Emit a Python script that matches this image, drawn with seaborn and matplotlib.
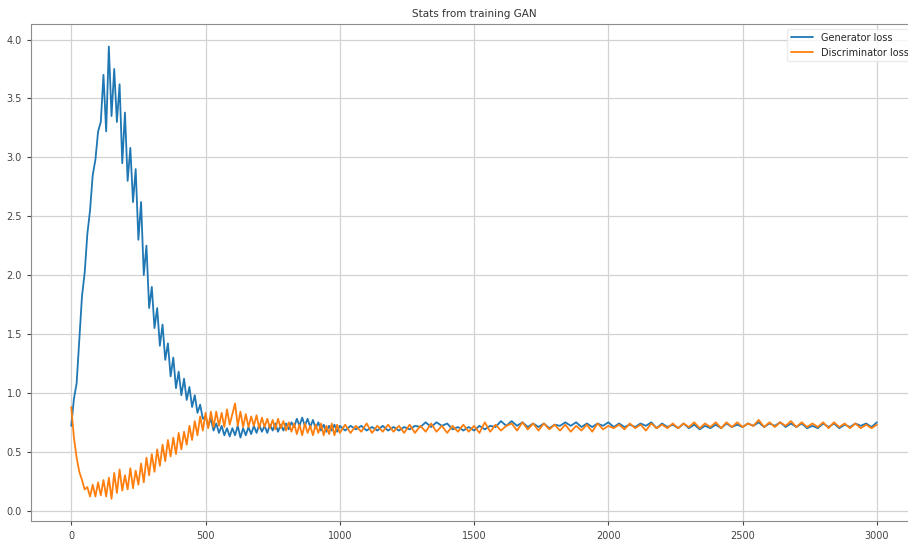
import matplotlib
matplotlib.use("Agg")
import matplotlib.pyplot as plt
import seaborn as sns

# iterations: every 10 up to 1000, then every 20
steps = list(range(0, 1001, 10)) + list(range(1020, 3001, 20))

generator_loss = [
    0.72, 0.95, 1.08, 1.45, 1.82, 2.02, 2.35, 2.55, 2.85, 2.98,
    3.22, 3.30, 3.70, 3.22, 3.94, 3.35, 3.75, 3.30, 3.62, 2.95,
    3.38, 2.80, 3.08, 2.62, 2.90, 2.30, 2.62, 2.00, 2.25, 1.72,
    1.90, 1.55, 1.72, 1.40, 1.58, 1.28, 1.42, 1.14, 1.30, 1.04,
    1.18, 0.98, 1.12, 0.94, 1.05, 0.88, 0.98, 0.83, 0.90, 0.78,
    0.80, 0.72, 0.78, 0.68, 0.74, 0.66, 0.72, 0.64, 0.70, 0.63,
    0.70, 0.64, 0.72, 0.62, 0.70, 0.64, 0.71, 0.65, 0.72, 0.66,
    0.73, 0.67, 0.72, 0.66, 0.73, 0.68, 0.74, 0.67, 0.73, 0.68,
    0.74, 0.69, 0.75, 0.71, 0.78, 0.72, 0.79, 0.72, 0.78, 0.71,
    0.77, 0.70, 0.75, 0.68, 0.73, 0.67, 0.72, 0.68, 0.73, 0.67,
    0.72,
    0.68, 0.72, 0.69, 0.72, 0.68, 0.71, 0.68, 0.72, 0.68, 0.71,
    0.68, 0.71, 0.69, 0.72, 0.71, 0.75, 0.71, 0.75, 0.72, 0.74,
    0.69, 0.71, 0.68, 0.71, 0.68, 0.72, 0.69, 0.72, 0.71, 0.76,
    0.72, 0.76, 0.72, 0.75, 0.71, 0.74, 0.71, 0.74, 0.70, 0.73,
    0.72, 0.75, 0.72, 0.75, 0.71, 0.74, 0.71, 0.74, 0.72, 0.75,
    0.71, 0.74, 0.71, 0.73, 0.71, 0.74, 0.72, 0.75, 0.70, 0.74,
    0.71, 0.73, 0.70, 0.74, 0.70, 0.73, 0.69, 0.72, 0.70, 0.73,
    0.70, 0.74, 0.71, 0.73, 0.71, 0.74, 0.72, 0.75, 0.71, 0.74,
    0.72, 0.75, 0.71, 0.74, 0.71, 0.74, 0.70, 0.72, 0.70, 0.74,
    0.71, 0.74, 0.70, 0.73, 0.71, 0.74, 0.72, 0.74, 0.71, 0.75,
]

discriminator_loss = [
    0.88, 0.62, 0.45, 0.33, 0.26, 0.18, 0.20, 0.12, 0.22, 0.12,
    0.24, 0.13, 0.26, 0.12, 0.28, 0.10, 0.32, 0.15, 0.35, 0.17,
    0.30, 0.18, 0.36, 0.19, 0.34, 0.22, 0.40, 0.24, 0.45, 0.30,
    0.48, 0.33, 0.52, 0.38, 0.56, 0.42, 0.60, 0.46, 0.62, 0.48,
    0.66, 0.52, 0.67, 0.56, 0.72, 0.60, 0.76, 0.64, 0.80, 0.68,
    0.83, 0.70, 0.84, 0.71, 0.84, 0.72, 0.83, 0.71, 0.86, 0.73,
    0.82, 0.91, 0.72, 0.84, 0.71, 0.82, 0.71, 0.80, 0.72, 0.81,
    0.70, 0.79, 0.71, 0.78, 0.70, 0.77, 0.69, 0.78, 0.70, 0.76,
    0.68, 0.75, 0.67, 0.74, 0.65, 0.73, 0.64, 0.74, 0.66, 0.72,
    0.64, 0.73, 0.66, 0.74, 0.64, 0.72, 0.65, 0.74, 0.64, 0.73,
    0.66,
    0.73, 0.66, 0.72, 0.67, 0.74, 0.66, 0.72, 0.67, 0.73, 0.67,
    0.72, 0.66, 0.73, 0.66, 0.72, 0.67, 0.74, 0.67, 0.72, 0.66,
    0.72, 0.67, 0.73, 0.67, 0.72, 0.66, 0.75, 0.67, 0.73, 0.68,
    0.72, 0.74, 0.68, 0.75, 0.69, 0.74, 0.68, 0.74, 0.69, 0.73,
    0.68, 0.73, 0.67, 0.72, 0.68, 0.73, 0.67, 0.74, 0.69, 0.72,
    0.70, 0.73, 0.69, 0.74, 0.70, 0.73, 0.68, 0.74, 0.70, 0.73,
    0.70, 0.74, 0.70, 0.74, 0.71, 0.75, 0.70, 0.74, 0.71, 0.75,
    0.70, 0.75, 0.71, 0.75, 0.71, 0.74, 0.72, 0.77, 0.71, 0.75,
    0.71, 0.75, 0.72, 0.76, 0.71, 0.75, 0.71, 0.74, 0.71, 0.75,
    0.70, 0.75, 0.71, 0.74, 0.70, 0.74, 0.70, 0.73, 0.70, 0.73,
]

sns.set_style("whitegrid", {
    "grid.color": "#d2d2d2",
    "axes.edgecolor": "#8c8c8c",
    "xtick.bottom": True,
    "ytick.left": True,
})

fig = plt.figure(figsize=(9.08, 5.4), dpi=100)
# the original image is cropped on the right, so the axes run past the edge
ax = fig.add_axes([0.0341, 0.0343, 0.976, 0.9213])

sns.lineplot(x=steps, y=generator_loss, ax=ax, color="#1f77b4",
             linewidth=1.3, label="Generator loss")
sns.lineplot(x=steps, y=discriminator_loss, ax=ax, color="#ff7f0e",
             linewidth=1.3, label="Discriminator loss")

ax.set_title("Stats from training GAN", fontsize=7.5, color="#333333", pad=5)
ax.tick_params(labelsize=7, colors="#444444", length=3)
ax.grid(True, linewidth=0.9)
ax.legend(loc="upper right", fontsize=7, frameon=True, framealpha=0.8,
          edgecolor="#e6e6e6", handlelength=2.2)

fig.savefig("out.png", dpi=100)
